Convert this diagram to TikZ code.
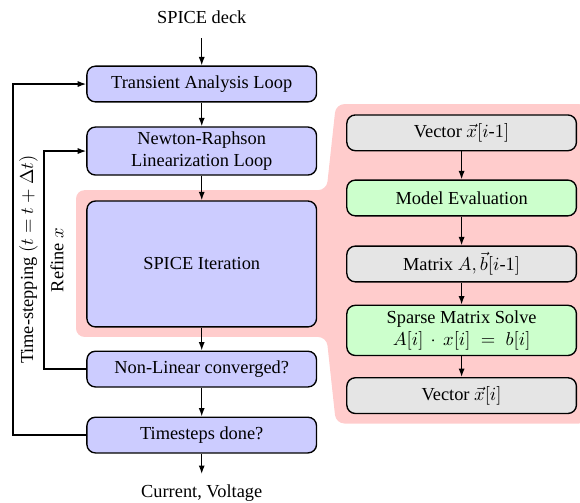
\documentclass[tikz,border=0pt]{standalone}
\usepackage{amsmath}
\usepackage[no-math]{fontspec}
\setmainfont{Liberation Serif}
\usetikzlibrary{positioning, calc, arrows.meta, backgrounds}

\begin{document}
\begin{tikzpicture}[
    font = \fontsize{10.8pt}{13pt}\selectfont,
    flowNode/.append style = {draw, thick, rectangle, rounded corners = 5pt, minimum width = 135pt, minimum height = 21pt, inner ysep = 2.7pt, align = center},
    loopNode/.append style = {flowNode, fill = blue!20},
    dataNode/.append style = {flowNode, fill = gray!20},
    kernelNode/.append style = {flowNode, fill = green!20},
    myArrow/.append style = {->, >={Latex[length = 5pt, width = 3.6pt]}, thick},
    node distance = 14pt
    ]
      \useasboundingbox (0,0) rectangle (341pt, -295.2pt);

      \node[loopNode] (transient) at (118.6pt, -49.4pt) {Transient Analysis Loop};
      \node[above = 21pt of transient] (deck) {SPICE deck};
      \node[loopNode, below = 14pt of transient] (newton) {Newton-Raphson\\Linearization Loop};
      \node[loopNode, below = 14.5pt of newton, minimum height = 74pt] (spiceIter) {SPICE Iteration};
      \node[loopNode, below = 13.5pt of spiceIter] (nonLinear) {Non-Linear converged?};
      \node[loopNode, below = 17pt of nonLinear] (timesteps) {Timesteps done?};
      \node[below = 14.5pt of timesteps] (output) {Current, Voltage};

      \node[dataNode, right = 17pt of spiceIter] (matrixAb) {Matrix $A, \vec{b}[i\text{-}1]$};
      \node[kernelNode, above = 17pt of matrixAb] (modelEval) {Model Evaluation};
      \node[dataNode, above = 16.5pt of modelEval] (vectorOld) {Vector $\vec{x}[i\text{-}1]$};
      \node[kernelNode, below = 13pt of matrixAb, minimum height = 29.5pt] (sparseSolve) {Sparse Matrix Solve\\$A[i] \,\cdot\, x[i] \;=\; b[i]$};
      \node[dataNode, below = 12.3pt of sparseSolve] (vectorNew) {Vector $\vec{x}[i]$};

      \begin{pgfonlayer}{background}
        \fill[red!20, rounded corners = 5pt]
          ($(spiceIter.north west) + (-6pt, 6pt)$) -- ($(spiceIter.north east) + (5.5pt, 6pt)$)
          -- ($(vectorOld.north west) + (-6pt, 6pt)$) -- ($(vectorOld.north east) + (6pt, 6pt)$)
          -- ($(vectorNew.south east) + (6pt, -5.5pt)$) -- ($(vectorNew.south west) + (-6pt, -5.5pt)$)
          -- ($(spiceIter.south east) + (5.5pt, -5.5pt)$) -- ($(spiceIter.south west) + (-6pt, -5.5pt)$)
          -- cycle;
      \end{pgfonlayer}

      %% Arrows

      \coordinate (outerX) at (7.6pt, 0);
      \coordinate (innerX) at (25.9pt, 0);

      \draw[myArrow, shorten <= 5pt] (deck) -- (transient);
      \draw[myArrow] (transient) -- (newton);
      \draw[myArrow] (newton) -- (spiceIter);
      \draw[myArrow] (spiceIter) -- (nonLinear);
      \draw[myArrow] (nonLinear) -- (timesteps);
      \draw[myArrow, shorten >= 2.5pt] (timesteps) -- (output);

      \draw[myArrow] (vectorOld) -- (modelEval);
      \draw[myArrow] (modelEval) -- (matrixAb);
      \draw[myArrow] (matrixAb) -- (sparseSolve);
      \draw[myArrow] (sparseSolve) -- (vectorNew);

      \draw[myArrow] (nonLinear.west) -- (nonLinear.west -| innerX) -- node[sloped, below] {Refine $x$} (newton.west -| innerX) -- (newton.west);
      \draw[myArrow] (timesteps.west) -- (timesteps.west -| outerX) -- node[sloped, below] {Time-stepping $(t = t + \Delta t)$} (transient.west -| outerX) -- (transient.west);
    \end{tikzpicture}
\end{document}
